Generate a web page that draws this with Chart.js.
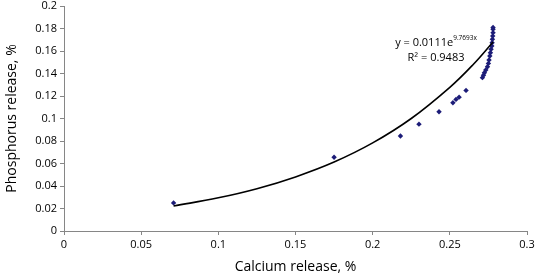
<!DOCTYPE html>
<html lang="en">
<head>
    <meta charset="UTF-8">
    <title>Phosphorus vs calcium release</title>
    <script src="https://cdn.jsdelivr.net/npm/chart.js"></script>
    <style>
        html, body { margin: 0; padding: 0; background: #fff; }
        #wrap { width: 536px; height: 279px; position: relative; }
    </style>
</head>
<body>
    <div id="wrap"><canvas id="chart"></canvas></div>

    <script>
        const calcium = [0.071, 0.175, 0.218, 0.230, 0.243, 0.252, 0.254, 0.256, 0.2605,
            0.2711, 0.2718, 0.2724, 0.2733, 0.2744, 0.2750, 0.2754, 0.2759, 0.2763,
            0.2767, 0.2772, 0.2774, 0.2776, 0.2778, 0.2780, 0.2780, 0.2780];
        const phosphorus = [0.025, 0.0655, 0.0844, 0.095, 0.106, 0.114, 0.117, 0.119, 0.125,
            0.1363, 0.1384, 0.1407, 0.1431, 0.146, 0.149, 0.152, 0.1556, 0.1585,
            0.1615, 0.1644, 0.1674, 0.1704, 0.1733, 0.1763, 0.1793, 0.181];

        // exponential trend line
        const trendX = [0.071, 0.1, 0.125, 0.15, 0.175, 0.2, 0.225, 0.25, 0.265, 0.278];
        const trendY = [0.0222, 0.0295, 0.0376, 0.0481, 0.0613, 0.0783, 0.1000, 0.1277, 0.1478, 0.168];

        const xTicks = [0, 0.05, 0.1, 0.15, 0.2, 0.25, 0.3];
        const yTicks = [0, 0.02, 0.04, 0.06, 0.08, 0.1, 0.12, 0.14, 0.16, 0.18, 0.2];

        const axisColor = '#868686';
        const font = "'Open Sans', 'Liberation Sans', sans-serif";

        const equationLabel = {
            id: 'equationLabel',
            afterDatasetsDraw(chart) {
                const { ctx, chartArea } = chart;
                ctx.save();
                ctx.fillStyle = '#000';
                ctx.textBaseline = 'alphabetic';
                const cx = chartArea.left + 372;
                ctx.font = '11px ' + font;
                const main = 'y = 0.0111e';
                const sup = '9.7693x';
                const mw = ctx.measureText(main).width;
                ctx.font = '6.5px ' + font;
                const sw = ctx.measureText(sup).width;
                let x0 = cx - (mw + sw) / 2;
                ctx.font = '11px ' + font;
                ctx.textAlign = 'left';
                ctx.fillText(main, x0, chartArea.top + 40);
                ctx.font = '6.5px ' + font;
                ctx.fillText(sup, x0 + mw, chartArea.top + 34);
                ctx.font = '11px ' + font;
                ctx.textAlign = 'center';
                ctx.fillText('R\u00B2 = 0.9483', cx, chartArea.top + 55);
                ctx.restore();
            }
        };

        new Chart(document.getElementById('chart'), {
            type: 'scatter',
            data: {
                datasets: [{
                    label: 'trend',
                    type: 'line',
                    data: trendX.map((x, i) => ({ x: x, y: trendY[i] })),
                    borderColor: '#000',
                    borderWidth: 1.6,
                    pointRadius: 0,
                    tension: 0.4,
                    fill: false
                }, {
                    label: 'data',
                    data: calcium.map((x, i) => ({ x: x, y: phosphorus[i] })),
                    pointStyle: 'rectRot',
                    pointRadius: 2.7,
                    backgroundColor: '#1c1c78',
                    borderColor: '#1c1c78',
                    borderWidth: 0
                }]
            },
            options: {
                responsive: true,
                maintainAspectRatio: false,
                animation: false,
                layout: { padding: { top: 6, right: 9, left: 0, bottom: 0 } },
                plugins: {
                    legend: { display: false },
                    tooltip: { enabled: false }
                },
                scales: {
                    x: {
                        type: 'linear',
                        min: 0,
                        max: 0.3,
                        afterBuildTicks: (axis) => { axis.ticks = xTicks.map(v => ({ value: v })); },
                        afterFit: (axis) => { axis.height = 48; axis.paddingLeft = 0; axis.paddingRight = 0; },
                        grid: { display: true, drawOnChartArea: false, drawTicks: true, tickLength: 4, color: axisColor },
                        border: { color: axisColor, width: 1 },
                        ticks: { color: '#000', font: { family: font, size: 11 }, padding: 3, maxRotation: 0,
                            callback: (v) => String(v) },
                        title: { display: true, text: 'Calcium release, %', color: '#000',
                            font: { family: font, size: 14 }, padding: { top: 2 } }
                    },
                    y: {
                        type: 'linear',
                        min: 0,
                        max: 0.2,
                        afterBuildTicks: (axis) => { axis.ticks = yTicks.map(v => ({ value: v })); },
                        afterFit: (axis) => { axis.width = 64; axis.paddingTop = 0; axis.paddingBottom = 0; },
                        grid: { display: true, drawOnChartArea: false, drawTicks: true, tickLength: 4, color: axisColor },
                        border: { color: axisColor, width: 1 },
                        ticks: { color: '#000', font: { family: font, size: 11 }, padding: 3,
                            callback: (v) => String(v) },
                        title: { display: true, text: 'Phosphorus release, %', color: '#000',
                            font: { family: font, size: 14 }, padding: { bottom: 2 } }
                    }
                }
            },
            plugins: [equationLabel]
        });
    </script>
</body>
</html>
